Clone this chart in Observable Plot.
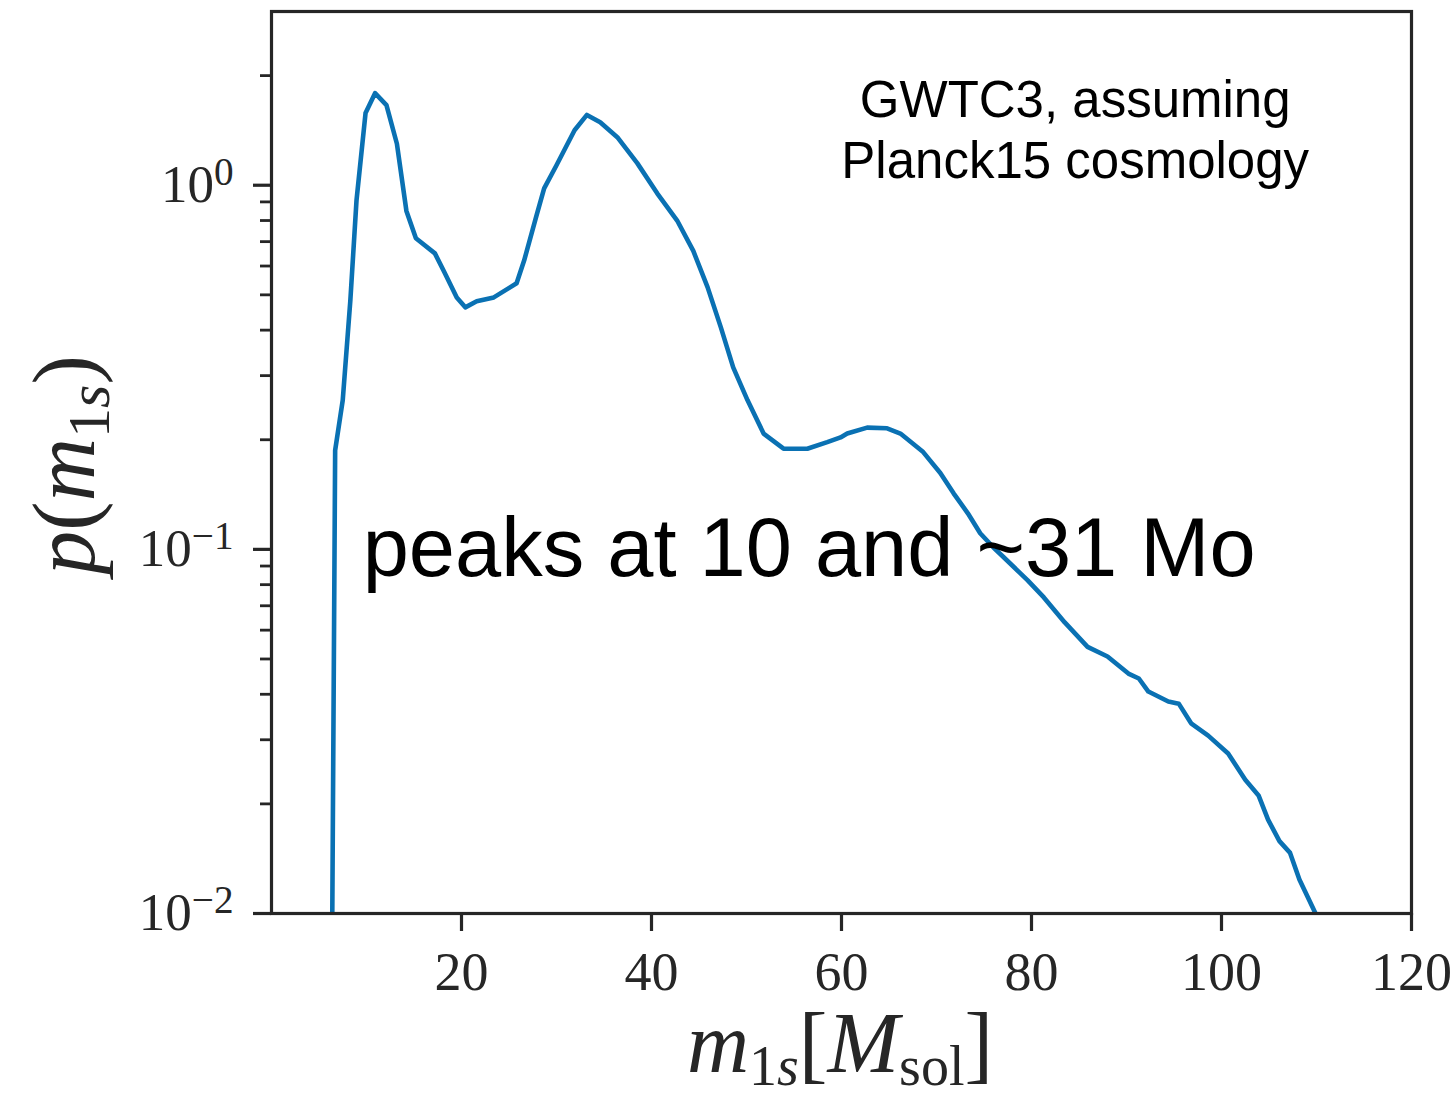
<!DOCTYPE html>
<html>
<head>
<meta charset="utf-8">
<script src="https://cdn.jsdelivr.net/npm/d3@7"></script>
<script src="https://cdn.jsdelivr.net/npm/@observablehq/plot@0.6"></script>
<style>
  body { margin: 0; background: #fff; }
  #chart svg { display: block; }
</style>
</head>
<body>
<div id="chart"></div>
<script>
// primary mass (solar masses)
const mass = [6.4, 6.7, 7.5, 8.3, 8.95, 9.9, 10.9, 12.1, 13.2, 14.2, 15.2, 17.2, 18.2, 19.5, 20.4, 21.6, 23.4, 25.8, 26.6, 27.9, 28.7, 30.0, 31.9, 33.2, 34.6, 36.4, 38.5, 40.6, 42.7, 44.4, 45.9, 47.3, 48.6, 50.1, 51.8, 53.9, 56.4, 58.5, 59.9, 60.6, 62.7, 64.8, 66.2, 68.6, 70.4, 71.8, 73.3, 74.6, 76.0, 77.1, 79.6, 81.3, 83.5, 85.9, 88.0, 90.2, 91.3, 92.3, 94.4, 95.5, 96.8, 98.6, 100.7, 102.5, 103.9, 104.9, 106.1, 107.2, 108.2, 108.8, 109.9];
// probability density p(m1s)
const density = [0.01, 0.187, 0.257, 0.483, 0.91, 1.58, 1.79, 1.66, 1.30, 0.85, 0.715, 0.65, 0.577, 0.492, 0.462, 0.48, 0.492, 0.538, 0.622, 0.827, 0.98, 1.135, 1.416, 1.56, 1.49, 1.355, 1.15, 0.95, 0.80, 0.66, 0.525, 0.407, 0.316, 0.257, 0.208, 0.189, 0.189, 0.197, 0.203, 0.208, 0.216, 0.215, 0.208, 0.185, 0.162, 0.1425, 0.1256, 0.1107, 0.1012, 0.095, 0.0822, 0.0738, 0.063, 0.054, 0.0508, 0.0456, 0.0442, 0.0407, 0.0382, 0.0377, 0.0333, 0.0308, 0.0275, 0.0233, 0.0211, 0.0181, 0.0158, 0.0147, 0.0124, 0.0115, 0.01];

const xTicks = [20, 40, 60, 80, 100, 120];
const yMajorTicks = [0.01, 0.1, 1];
const yMinorTicks = [0.02, 0.03, 0.04, 0.05, 0.06, 0.07, 0.08, 0.09, 0.2, 0.3, 0.4, 0.5, 0.6, 0.7, 0.8, 0.9, 2];
const noteLines = ["GWTC3, assuming", "Planck15 cosmology"];
const peakNote = ["peaks at 10 and ~31 Mo"];

const data = mass.map((m, i) => ({m, p: density[i]}));

const ink = "#262626";
const serif = "'Liberation Serif', 'DejaVu Serif', serif";
const sans = "'Liberation Sans', Arial, Helvetica, sans-serif";

const plot = Plot.plot({
  width: 1456,
  height: 1104,
  marginLeft: 271,
  marginRight: 45,
  marginTop: 11,
  marginBottom: 191,
  style: {background: "#fff", overflow: "visible"},
  x: {domain: [0, 120]},
  y: {type: "log", domain: [0.01, 3.0]},
  marks: [
    Plot.axisX(xTicks, {
      tickSize: 18, tickPadding: 20, stroke: ink, strokeWidth: 3.2,
      fontSize: 54, fontFamily: serif, fill: ink, label: null,
      tickFormat: d => String(d)
    }),
    Plot.axisY(yMinorTicks, {
      tickSize: 11, stroke: ink, strokeWidth: 2.8, label: null,
      tickFormat: () => ""
    }),
    Plot.axisY(yMajorTicks, {
      tickSize: 18, tickPadding: 20, stroke: ink, strokeWidth: 3.2,
      fontSize: 53, fontFamily: serif, fill: ink, label: null,
      tickFormat: d => "10^" + Math.round(Math.log10(d))
    }),
    Plot.lineY(data, {x: "m", y: "p", stroke: "#0a71b3", strokeWidth: 4.6, clip: true}),
    Plot.frame({stroke: ink, strokeWidth: 3.2}),
    Plot.text(noteLines, {
      x: 84.6, y: (d, i) => [1.71, 1.16][i], text: d => d,
      fontSize: 51, fontFamily: sans, fill: "#000", textAnchor: "middle"
    }),
    Plot.text(peakNote, {
      x: 9.6, y: 0.1, text: d => d,
      fontSize: 83, fontFamily: sans, fill: "#000", textAnchor: "start"
    })
  ]
});

const svg = d3.select(plot);

// superscript tick labels 10^k
svg.selectAll("text").each(function() {
  const t = d3.select(this);
  const s = this.textContent;
  if (/^10\^-?\d+$/.test(s)) {
    const k = s.split("^")[1].replace("-", "\u2212");
    t.text("");
    t.append("tspan").text("10");
    t.append("tspan").attr("dy", "-0.45em").attr("font-size", "0.74em").text(k);
  }
});

// x-axis label  m_{1s}[M_sol]
const xl = svg.append("text")
  .attr("x", 840).attr("y", 1072)
  .attr("text-anchor", "middle")
  .attr("font-family", serif)
  .attr("font-size", 86)
  .attr("fill", ink);
xl.append("tspan").attr("font-style", "italic").text("m");
xl.append("tspan").attr("font-size", 56).attr("dy", 13).text("1");
xl.append("tspan").attr("font-size", 56).attr("font-style", "italic").text("s");
xl.append("tspan").attr("dy", -13).text("[");
xl.append("tspan").attr("font-style", "italic").text("M");
xl.append("tspan").attr("font-size", 56).attr("dy", 13).text("sol");
xl.append("tspan").attr("dy", -13).text("]");

// y-axis label  p(m_{1s})
const yl = svg.append("text")
  .attr("transform", "translate(94,465) rotate(-90)")
  .attr("text-anchor", "middle")
  .attr("font-family", serif)
  .attr("font-size", 88)
  .attr("fill", ink);
yl.append("tspan").attr("font-style", "italic").text("p");
yl.append("tspan").text("(");
yl.append("tspan").attr("font-style", "italic").text("m");
yl.append("tspan").attr("font-size", 60).attr("dy", 15).text("1");
yl.append("tspan").attr("font-size", 60).attr("font-style", "italic").text("s");
yl.append("tspan").attr("dy", -15).text(")");

document.getElementById("chart").append(plot);
</script>
</body>
</html>
